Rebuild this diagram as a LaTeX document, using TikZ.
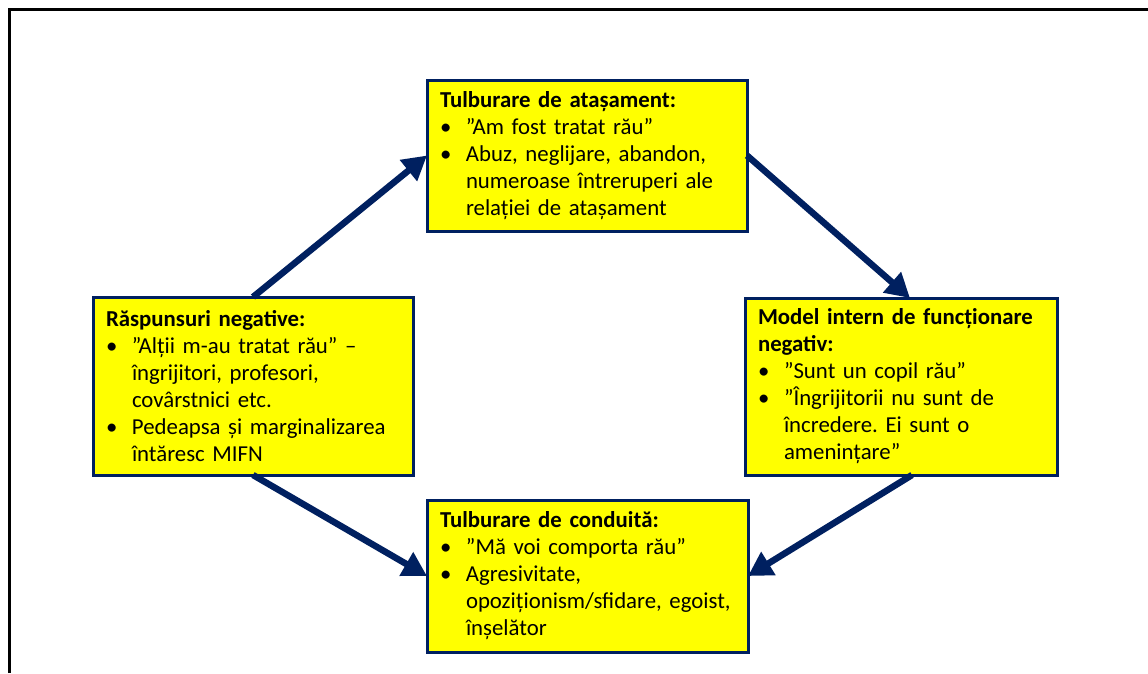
\documentclass[tikz,border=0pt]{standalone}
\usepackage{fontspec}
\setmainfont{Carlito}
\usepackage{xcolor}
\usepackage{tikz}
\usetikzlibrary{arrows.meta}

\definecolor{navy}{HTML}{002060}
\definecolor{boxyellow}{HTML}{FFFF00}

\newcommand{\bul}{\makebox[26pt][l]{\textbullet}}
\newcommand{\ind}{\hspace*{26pt}}
\frenchspacing

\begin{document}
\begin{tikzpicture}[
				x=1pt, y=-1pt,
				stage/.style={
					rectangle,
					draw=navy,
					fill=boxyellow,
					line width=3pt,
					anchor=north west,
					outer sep=0pt,
					inner xsep=13pt,
					inner ysep=5pt,
					align=left,
					font=\fontsize{22.8}{27}\selectfont
				},
				edge/.style={
					draw=navy,
					line width=6.5pt,
					-{Triangle[length=24pt,width=26pt]}
				}
			]

				\useasboundingbox (0,0) rectangle (1148,673);
				\draw[line width=3.5pt] (9.5,673) -- (9.5,9.5) -- (1148,9.5);

				\node[stage, minimum width=320pt, minimum height=151pt, text width=294pt] (att) at (427,80)
					{\textbf{Tulburare de atașament:}\\
					\bul ”Am fost tratat rău”\\
					\bul Abuz, neglijare, abandon,\\
					\ind numeroase întreruperi ale\\
					\ind relației de atașament};

				\node[stage, minimum width=320pt, minimum height=178pt, text width=294pt] (resp) at (93,297)
					{\textbf{Răspunsuri negative:}\\
					\bul ”Alții m-au tratat rău” –\\
					\ind îngrijitori, profesori,\\
					\ind covârstnici etc.\\
					\bul Pedeapsa și marginalizarea\\
					\ind întăresc MIFN};

				\node[stage, minimum width=312pt, minimum height=177pt, text width=286pt] (model) at (745,298)
					{\textbf{Model intern de funcționare}\\
					\textbf{negativ:}\\
					\bul ”Sunt un copil rău”\\
					\bul ”Îngrijitorii nu sunt de\\
					\ind încredere. Ei sunt o\\
					\ind amenințare”};

				\node[stage, minimum width=321pt, minimum height=152pt, text width=295pt] (cond) at (427,500)
					{\textbf{Tulburare de conduită:}\\
					\bul ”Mă voi comporta rău”\\
					\bul Agresivitate,\\
					\ind opoziționism/sfidare, egoist,\\
					\ind înșelător};

				\draw[edge] (resp.north) -- (att.west);
				\draw[edge] (att.east) -- ([xshift=9pt]model.north);
				\draw[edge] ([xshift=11pt]model.south) -- (cond.east);
				\draw[edge] (resp.south) -- (cond.west);

			\end{tikzpicture}
\end{document}
